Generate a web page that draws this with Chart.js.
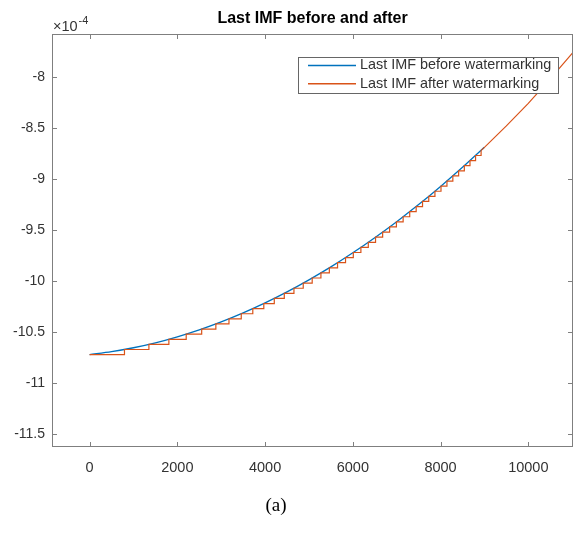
<!DOCTYPE html>
<html>

<head>
    <style>
        body {
            margin: 0;
            background: #ffffff;
        }

        #wrap {
            position: relative;
            width: 574px;
            height: 533px;
        }

        #caption {
            position: absolute;
            left: 0;
            width: 552px;
            top: 494px;
            text-align: center;
            font-family: "Liberation Serif", "DejaVu Serif", serif;
            font-size: 19px;
            color: #000;
        }
    </style>
</head>

<body>
    <div id="wrap">
        <canvas id="imfChart" width="574" height="533"></canvas>
        <div id="caption">(a)</div>
    </div>

    <script src="https://cdn.jsdelivr.net/npm/chart.js@4/dist/chart.umd.min.js"></script>
    <script>
        // values are in units of 1e-4 (axis shows "x10^-4")
        const xTicks = [0, 2000, 4000, 6000, 8000, 10000];
        const yTicks = [-11.5, -11, -10.5, -10, -9.5, -9, -8.5, -8];

        // Last IMF before watermarking
        const beforeX = [0, 500, 1000, 1500, 2000, 2500, 3000, 3500, 4000, 4500,
            5000, 5500, 6000, 6500, 7000, 7500, 8000, 8500, 9000];
        const beforeY = [-10.720, -10.691, -10.653, -10.605, -10.546, -10.478, -10.400, -10.312, -10.214, -10.106,
            -9.988, -9.861, -9.723, -9.575, -9.418, -9.251, -9.073, -8.886, -8.689];

        // Last IMF after watermarking: held levels with jumps at these positions, then a smooth tail
        const afterStepX = [795, 1352, 1807, 2202, 2555, 2878, 3177, 3457, 3720, 3971,
            4210, 4438, 4658, 4870, 5074, 5273, 5465, 5652, 5834, 6011,
            6184, 6353, 6518, 6680, 6839, 6994, 7147, 7297, 7444, 7589,
            7731, 7872, 8010, 8146, 8280, 8412, 8542, 8671, 8798, 8924];
        const afterLevels = [-10.72, -10.67, -10.62, -10.57, -10.52, -10.47, -10.42, -10.37, -10.32, -10.27,
            -10.22, -10.17, -10.12, -10.07, -10.02, -9.97, -9.92, -9.87, -9.82, -9.77,
            -9.72, -9.67, -9.62, -9.57, -9.52, -9.47, -9.42, -9.37, -9.32, -9.27,
            -9.22, -9.17, -9.12, -9.07, -9.02, -8.97, -8.92, -8.87, -8.82, -8.77, -8.72];
        const afterTailX = [9000, 9500, 10000, 10500, 11000, 11300];
        const afterTailY = [-8.69, -8.48, -8.26, -8.02, -7.77, -7.62];

        const labels = ['Last IMF before watermarking', 'Last IMF after watermarking'];
        const colors = ['#0072BD', '#D95319'];
        const axisColor = '#7f7f7f';
        const textColor = '#333333';
        const fontFamily = '"Liberation Sans", Arial, sans-serif';

        const beforePoints = beforeX.map((x, i) => ({ x: x, y: beforeY[i] }));

        const afterPoints = [{ x: 0, y: afterLevels[0] }];
        afterStepX.forEach((x, i) => {
            afterPoints.push({ x: x, y: afterLevels[i] });
            afterPoints.push({ x: x, y: afterLevels[i + 1] });
        });
        afterTailX.forEach((x, i) => afterPoints.push({ x: x, y: afterTailY[i] }));

        // box, inward ticks, title, exponent label and legend, MATLAB style
        const matlabDecor = {
            id: 'matlabDecor',
            afterDraw(chart) {
                const { ctx, chartArea: area, scales } = chart;
                ctx.save();
                ctx.strokeStyle = axisColor;
                ctx.lineWidth = 1;
                ctx.strokeRect(Math.round(area.left) + 0.5, Math.round(area.top) + 0.5,
                    Math.round(area.right - area.left) - 1, Math.round(area.bottom - area.top) - 1);

                ctx.beginPath();
                xTicks.forEach(v => {
                    const px = Math.round(scales.x.getPixelForValue(v)) + 0.5;
                    ctx.moveTo(px, area.bottom);
                    ctx.lineTo(px, area.bottom - 5);
                    ctx.moveTo(px, area.top);
                    ctx.lineTo(px, area.top + 5);
                });
                yTicks.forEach(v => {
                    const py = Math.round(scales.y.getPixelForValue(v)) + 0.5;
                    ctx.moveTo(area.left, py);
                    ctx.lineTo(area.left + 5, py);
                    ctx.moveTo(area.right, py);
                    ctx.lineTo(area.right - 5, py);
                });
                ctx.stroke();

                // title
                ctx.fillStyle = '#000000';
                ctx.font = 'bold 16px ' + fontFamily;
                ctx.textAlign = 'center';
                ctx.textBaseline = 'middle';
                ctx.fillText('Last IMF before and after', (area.left + area.right) / 2, 19);

                // exponent
                ctx.fillStyle = textColor;
                ctx.textAlign = 'left';
                ctx.textBaseline = 'alphabetic';
                ctx.font = '14.5px ' + fontFamily;
                ctx.fillText('\u00d710', area.left + 1, 31);
                const w = ctx.measureText('\u00d710').width;
                ctx.font = '11px ' + fontFamily;
                ctx.fillText('-4', area.left + 1 + w + 1, 24);

                // legend
                const box = { left: 298, top: 57, width: 260, height: 36 };
                ctx.fillStyle = '#ffffff';
                ctx.fillRect(box.left, box.top, box.width, box.height);
                ctx.lineWidth = 1;
                ctx.strokeStyle = '#666666';
                ctx.strokeRect(box.left + 0.5, box.top + 0.5, box.width, box.height);
                ctx.font = '14.4px ' + fontFamily;
                ctx.textBaseline = 'middle';
                labels.forEach((label, i) => {
                    const rowY = box.top + 8.5 + i * 18.3;
                    ctx.strokeStyle = colors[i];
                    ctx.lineWidth = 1.5;
                    ctx.beginPath();
                    ctx.moveTo(box.left + 10, rowY);
                    ctx.lineTo(box.left + 58, rowY);
                    ctx.stroke();
                    ctx.fillStyle = textColor;
                    ctx.fillText(label, box.left + 62, rowY);
                });
                ctx.restore();
            }
        };

        const context = document.getElementById('imfChart').getContext('2d');
        const imfChart = new Chart(context, {
            type: 'line',
            data: {
                datasets: [
                    {
                        label: labels[0],
                        data: beforePoints,
                        borderColor: colors[0],
                        borderWidth: 1.3,
                        pointRadius: 0,
                        tension: 0.3,
                        order: 2
                    },
                    {
                        label: labels[1],
                        data: afterPoints,
                        borderColor: colors[1],
                        borderWidth: 1.2,
                        pointRadius: 0,
                        tension: 0,
                        order: 1
                    }
                ]
            },
            options: {
                responsive: false,
                animation: false,
                layout: {
                    padding: { top: 34, right: 1, left: 0, bottom: 0 }
                },
                plugins: {
                    legend: { display: false },
                    title: { display: false },
                    tooltip: { enabled: false }
                },
                scales: {
                    x: {
                        type: 'linear',
                        min: -857,
                        max: 11019,
                        grid: { display: false, drawTicks: false },
                        border: { display: false },
                        afterBuildTicks: scale => {
                            scale.ticks = xTicks.map(v => ({ value: v }));
                        },
                        afterFit: scale => {
                            scale.height = 86;
                        },
                        ticks: {
                            padding: 12,
                            maxRotation: 0,
                            color: textColor,
                            font: { family: fontFamily, size: 14.5 },
                            callback: value => String(value)
                        }
                    },
                    y: {
                        type: 'linear',
                        min: -11.625,
                        max: -7.58,
                        grid: { display: false, drawTicks: false },
                        border: { display: false },
                        afterBuildTicks: scale => {
                            scale.ticks = yTicks.map(v => ({ value: v }));
                        },
                        afterFit: scale => {
                            scale.width = 52;
                        },
                        ticks: {
                            padding: 7,
                            color: textColor,
                            font: { family: fontFamily, size: 14 },
                            callback: value => String(value)
                        }
                    }
                }
            },
            plugins: [matlabDecor]
        });
    </script>
</body>

</html>
